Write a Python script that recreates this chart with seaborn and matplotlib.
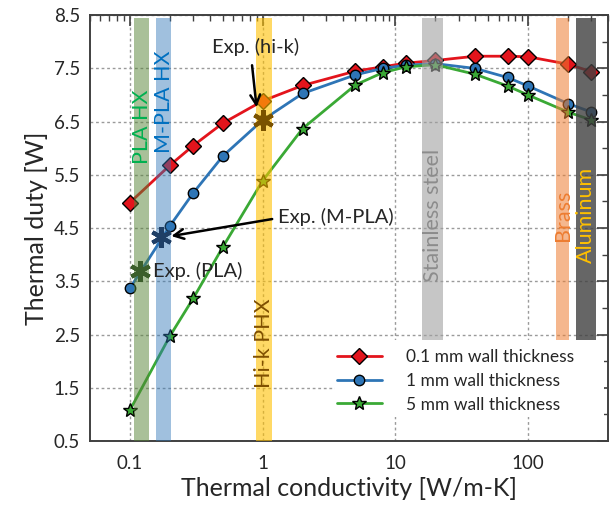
import numpy as np
import pandas as pd
import matplotlib
matplotlib.use("Agg")
import matplotlib.pyplot as plt
from matplotlib.patches import Rectangle
from matplotlib.ticker import FixedLocator, LogLocator, NullFormatter, FuncFormatter, MultipleLocator
import seaborn as sns

# ---- data -------------------------------------------------------------
conductivity = [0.1, 0.2, 0.3, 0.5, 1, 2, 5, 8, 12, 20, 40, 70, 100, 200, 300]
duty_01mm = [4.98, 5.68, 6.05, 6.47, 6.89, 7.18, 7.45, 7.53, 7.60, 7.65, 7.73, 7.73, 7.72, 7.58, 7.44]
duty_1mm = [3.37, 4.54, 5.16, 5.85, 6.53, 7.03, 7.38, 7.50, 7.56, 7.59, 7.50, 7.33, 7.17, 6.84, 6.68]
duty_5mm = [1.08, 2.47, 3.18, 4.14, 5.39, 6.37, 7.19, 7.42, 7.53, 7.57, 7.39, 7.17, 7.00, 6.68, 6.53]
series_labels = ["0.1 mm wall thickness", "1 mm wall thickness", "5 mm wall thickness"]

exp_labels = ["Exp. (PLA)", "Exp. (M-PLA)", "Exp. (hi-k)"]
exp_k = [0.12, 0.17, 1.0]
exp_duty = [3.70, 4.34, 6.53]

band_names = ["PLA HX", "M-PLA HX", "Hi-k PHX", "Stainless steel", "Brass", "Aluminum"]
band_lo = [0.108, 0.158, 0.89, 16.0, 162, 231]
band_hi = [0.140, 0.205, 1.18, 22.8, 204, 326]
band_bottom = [0.5, 0.5, 0.5, 2.28, 2.28, 2.28]

x_ticks = [0.1, 1, 10, 100]
x_tick_labels = ["0.1", "1", "10", "100"]

# ---- style ------------------------------------------------------------
sns.set_style("white")
plt.rcParams["font.family"] = ["Lato", "DejaVu Sans"]
plt.rcParams["text.color"] = "#262626"

fig = plt.figure(figsize=(6.12, 5.08), dpi=100)
ax = fig.add_axes([0.147, 0.132, 0.8465, 0.838])

df = pd.DataFrame({
    "k": conductivity * 3,
    "duty": duty_01mm + duty_1mm + duty_5mm,
    "wall": [series_labels[0]] * len(conductivity)
            + [series_labels[1]] * len(conductivity)
            + [series_labels[2]] * len(conductivity),
})

line_colors = ["#e3141c", "#2e75b6", "#3aa935"]
markers = ["D", "o", "*"]
msizes = [8.5, 7.5, 10]
for lab, col, mk, ms in zip(series_labels, line_colors, markers, msizes):
    sub = df[df["wall"] == lab]
    sns.lineplot(data=sub, x="k", y="duty", ax=ax, color=col, lw=2,
                 marker=mk, markersize=ms, markeredgecolor="black",
                 markeredgewidth=1.0, markerfacecolor=col, label=lab,
                 zorder=2, sort=False)

# experimental points
exp_colors = ["#3b5e2b", "#1f3f66", "#7a5200"]
for kx, dy, c in zip(exp_k, exp_duty, exp_colors):
    ax.plot([kx], [dy], linestyle="none", marker=(6, 2, 0), markersize=15,
            markeredgewidth=3, color=c, zorder=4)

# material bands
band_colors = ["#548235", "#2e75b6", "#ffc000", "#a0a0a0", "#ed7d31", "#404040"]
band_alpha = [0.5, 0.45, 0.6, 0.6, 0.55, 0.8]
band_text_colors = ["#00b050", "#0070c0", "#7f4f00", "#8c8c8c", "#ed7d31", "#ffc000"]
band_text_y = [6.40, 6.88, 2.34, 4.74, 4.74, 4.74]
ymin, ymax = 0.5, 8.5
band_top = 8.44
for lo, hi, b, c, a in zip(band_lo, band_hi, band_bottom, band_colors, band_alpha):
    ax.axvspan(lo, hi, ymin=(b - ymin) / (ymax - ymin), ymax=(band_top - ymin) / (ymax - ymin),
               color=c, alpha=a, lw=0, zorder=3)
for name, lo, hi, tc, ty in zip(band_names, band_lo, band_hi, band_text_colors, band_text_y):
    xc = np.sqrt(lo * hi)
    ax.text(xc, ty, name, rotation=90, ha="center", va="center",
            color=tc, fontsize=15.5, zorder=5)

# annotations
arrow = dict(arrowstyle="->,head_length=0.7,head_width=0.35", color="black", lw=1.8,
             shrinkA=0, shrinkB=0)
ax.annotate("", xy=(0.90, 6.77), xytext=(0.832, 7.56), arrowprops=arrow, zorder=6)
ax.text(0.88, 7.91, exp_labels[2], ha="center", va="center", fontsize=14.5, zorder=6)
ax.annotate("", xy=(0.205, 4.35), xytext=(1.18, 4.67), arrowprops=arrow, zorder=6)
ax.text(1.31, 4.71, exp_labels[1], ha="left", va="center", fontsize=14.5, zorder=6)
ax.text(0.149, 3.69, exp_labels[0], ha="left", va="center", fontsize=14.5, zorder=6)

# axes
ax.set_xscale("log")
ax.set_xlim(0.05, 400)
ax.set_ylim(ymin, ymax)
ax.xaxis.set_major_locator(FixedLocator(x_ticks))
ax.xaxis.set_major_formatter(FuncFormatter(lambda v, p: x_tick_labels[x_ticks.index(v)] if v in x_ticks else ""))
ax.xaxis.set_minor_locator(LogLocator(base=10, subs=np.arange(2, 10)))
ax.xaxis.set_minor_formatter(NullFormatter())
ax.yaxis.set_major_locator(FixedLocator(np.arange(0.5, 8.51, 1.0)))
ax.yaxis.set_major_formatter(FuncFormatter(lambda v, p: f"{v:.1f}"))
ax.yaxis.set_minor_locator(MultipleLocator(0.5))

ax.tick_params(which="both", direction="in", top=True, right=True,
               colors="#404040", labelcolor="#262626", labelsize=13.5)
ax.tick_params(which="major", length=8, width=1.2)
ax.tick_params(which="minor", length=4.5, width=1.0)
ax.tick_params(axis="x", pad=10)
ax.tick_params(axis="y", pad=7)

ax.grid(True, which="major", color="#9a9a9a", linestyle=(0, (2, 2)), lw=1.0, zorder=1)
ax.set_axisbelow(True)
for s in ax.spines.values():
    s.set_color("#404040")
    s.set_linewidth(1.4)

ax.set_xlabel("Thermal conductivity [W/m-K]", fontsize=18, labelpad=4)
ax.set_ylabel("Thermal duty [W]", fontsize=18, labelpad=4)

# white panel behind the legend, masking the grid
ax.add_patch(Rectangle((0.473, 0.056), 0.52, 0.181, transform=ax.transAxes,
                       facecolor="white", edgecolor="none", zorder=9))
leg = ax.legend(loc="lower right", bbox_to_anchor=(0.965, 0.03), fontsize=12.5,
                frameon=False, handlelength=2.6, handletextpad=1.4,
                labelspacing=0.45, borderpad=0.4)
leg.set_zorder(10)

fig.savefig("out.png", dpi=100)
